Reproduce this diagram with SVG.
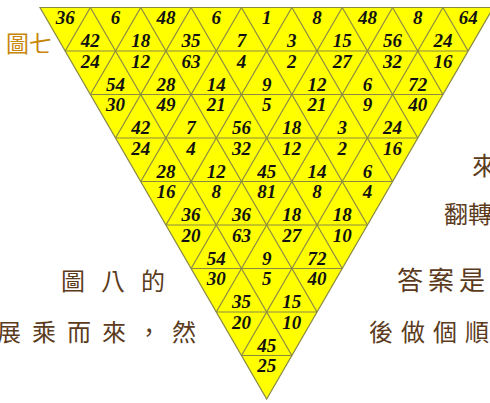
<svg xmlns="http://www.w3.org/2000/svg" width="490" height="403" viewBox="0 0 490 403">
<style>
.n{font-family:"Liberation Serif","DejaVu Serif",serif;font-weight:bold;font-style:italic;font-size:19px;fill:#111;text-anchor:middle}
.g{stroke:#8a8a45;stroke-width:1.2;fill:none}
.cap{font-family:"Noto Sans CJK TC","Noto Sans CJK SC",sans-serif;fill:#5b3b1c}
.t7{font-family:"Noto Sans CJK TC","Noto Sans CJK SC",sans-serif;fill:#c8860b;font-size:23px}
</style>
<rect width="490" height="403" fill="#fff"/>
<g id="background-text">
<text class="t7" x="6" y="52">圖七</text>
<text class="cap" x="472" y="175" font-size="25">來</text>
<text class="cap" x="444" y="223" font-size="24">翻轉</text>
<text class="cap" x="61" y="290" font-size="24" letter-spacing="16">圖八的</text>
<text class="cap" x="397" y="290" font-size="26" letter-spacing="5">答案是</text>
<text class="cap" x="-3" y="341" font-size="24" letter-spacing="11">展乘而來，然</text>
<text class="cap" x="369" y="341" font-size="24" letter-spacing="8">後做個順</text>
</g>
<g id="triangle">
<polygon points="40,7.5 493.33,7.5 266.67,399" fill="#ffff00" stroke="#8a8a45" stroke-width="1.2"/>
<g id="connectors" class="g">
<path d="M65.19,51H468.15M90.37,94.5H442.96M115.56,138H417.78M140.74,181.5H392.59M165.93,225H367.41M191.11,268.5H342.22M216.3,312H317.04M241.48,355.5H291.85"/>
<path d="M90.37,7.5L291.85,355.5M140.74,7.5L317.04,312M191.11,7.5L342.22,268.5M241.48,7.5L367.41,225M291.85,7.5L392.59,181.5M342.22,7.5L417.78,138M392.59,7.5L442.96,94.5M442.96,7.5L468.15,51"/>
<path d="M90.37,7.5L65.19,51M140.74,7.5L90.37,94.5M191.11,7.5L115.56,138M241.48,7.5L140.74,181.5M291.85,7.5L165.93,225M342.22,7.5L191.11,268.5M392.59,7.5L216.3,312M442.96,7.5L241.48,355.5"/>
</g>
</g>
<g id="row0" class="n">
<text x="65.19" y="24">36</text><text x="115.56" y="24">6</text><text x="165.93" y="24">48</text><text x="216.3" y="24">6</text><text x="266.67" y="24">1</text><text x="317.04" y="24">8</text><text x="367.41" y="24">48</text><text x="417.78" y="24">8</text><text x="468.15" y="24">64</text>
<text x="90.37" y="47">42</text><text x="140.74" y="47">18</text><text x="191.11" y="47">35</text><text x="241.48" y="47">7</text><text x="291.85" y="47">3</text><text x="342.22" y="47">15</text><text x="392.59" y="47">56</text><text x="442.96" y="47">24</text>
</g>
<g id="row1" class="n">
<text x="90.37" y="67.5">24</text><text x="140.74" y="67.5">12</text><text x="191.11" y="67.5">63</text><text x="241.48" y="67.5">4</text><text x="291.85" y="67.5">2</text><text x="342.22" y="67.5">27</text><text x="392.59" y="67.5">32</text><text x="442.96" y="67.5">16</text>
<text x="115.56" y="90.5">54</text><text x="165.93" y="90.5">28</text><text x="216.3" y="90.5">14</text><text x="266.67" y="90.5">9</text><text x="317.04" y="90.5">12</text><text x="367.41" y="90.5">6</text><text x="417.78" y="90.5">72</text>
</g>
<g id="row2" class="n">
<text x="115.56" y="111">30</text><text x="165.93" y="111">49</text><text x="216.3" y="111">21</text><text x="266.67" y="111">5</text><text x="317.04" y="111">21</text><text x="367.41" y="111">9</text><text x="417.78" y="111">40</text>
<text x="140.74" y="134">42</text><text x="191.11" y="134">7</text><text x="241.48" y="134">56</text><text x="291.85" y="134">18</text><text x="342.22" y="134">3</text><text x="392.59" y="134">24</text>
</g>
<g id="row3" class="n">
<text x="140.74" y="154.5">24</text><text x="191.11" y="154.5">4</text><text x="241.48" y="154.5">32</text><text x="291.85" y="154.5">12</text><text x="342.22" y="154.5">2</text><text x="392.59" y="154.5">16</text>
<text x="165.93" y="177.5">28</text><text x="216.3" y="177.5">12</text><text x="266.67" y="177.5">45</text><text x="317.04" y="177.5">14</text><text x="367.41" y="177.5">6</text>
</g>
<g id="row4" class="n">
<text x="165.93" y="198">16</text><text x="216.3" y="198">8</text><text x="266.67" y="198">81</text><text x="317.04" y="198">8</text><text x="367.41" y="198">4</text>
<text x="191.11" y="221">36</text><text x="241.48" y="221">36</text><text x="291.85" y="221">18</text><text x="342.22" y="221">18</text>
</g>
<g id="row5" class="n">
<text x="191.11" y="241.5">20</text><text x="241.48" y="241.5">63</text><text x="291.85" y="241.5">27</text><text x="342.22" y="241.5">10</text>
<text x="216.3" y="264.5">54</text><text x="266.67" y="264.5">9</text><text x="317.04" y="264.5">72</text>
</g>
<g id="row6" class="n">
<text x="216.3" y="285">30</text><text x="266.67" y="285">5</text><text x="317.04" y="285">40</text>
<text x="241.48" y="308">35</text><text x="291.85" y="308">15</text>
</g>
<g id="row7" class="n">
<text x="241.48" y="328.5">20</text><text x="291.85" y="328.5">10</text>
<text x="266.67" y="351.5">45</text>
</g>
<g id="row8" class="n">
<text x="266.67" y="372">25</text>
</g>
</svg>
